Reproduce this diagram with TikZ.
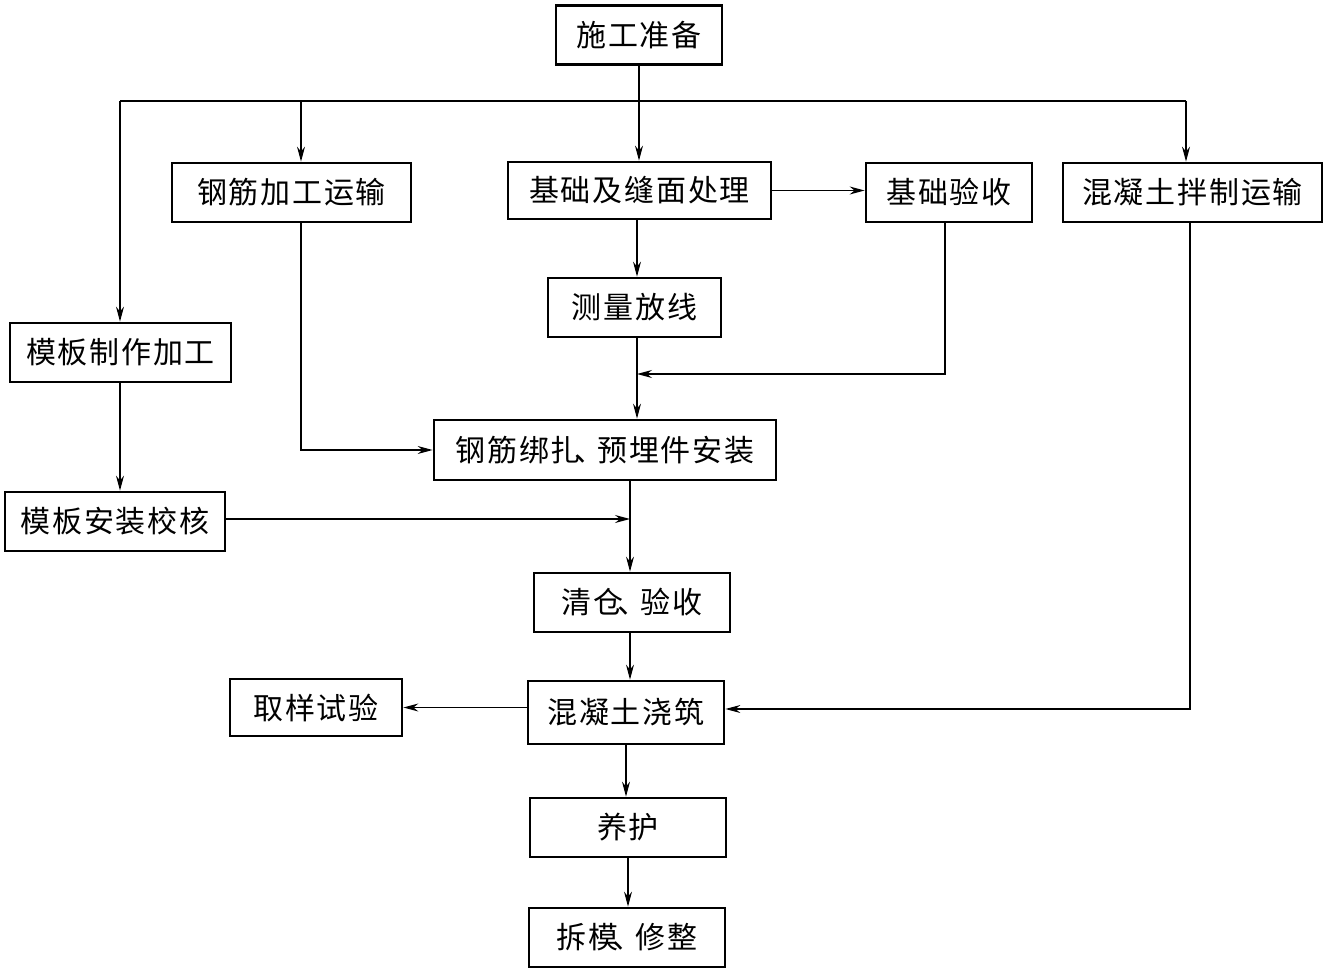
\documentclass[tikz,border=0pt]{standalone}
\usepackage{fontspec}
\newfontfamily\cjk[LetterSpace=6]{Noto Sans CJK SC}
\usetikzlibrary{arrows.meta}
\begin{document}
\begin{tikzpicture}[x=1pt,y=-1pt,
  box/.style={draw,line width=2.8pt,inner sep=0pt,font=\cjk\fontsize{30pt}{32pt}\selectfont},
  link/.style={line width=1.1pt},
  arr/.style={link,-{Stealth[length=15pt,width=8pt,inset=5pt]}}]
\path[use as bounding box] (0,0) rectangle (1327,973);
\node[box,minimum width=166pt,minimum height=59pt] (n1) at (639,35) {施工准备};
\node[box,minimum width=239pt,minimum height=59pt] (n2) at (291.5,192.5) {钢筋加工运输};
\node[box,minimum width=263pt,minimum height=57pt] (n3) at (639.5,190.5) {基础及缝面处理};
\node[box,minimum width=166pt,minimum height=59pt] (n4) at (949,192.5) {基础验收};
\node[box,minimum width=259pt,minimum height=59pt] (n5) at (1192.5,192.5) {混凝土拌制运输};
\node[box,minimum width=173pt,minimum height=59pt] (n6) at (634.5,307.5) {测量放线};
\node[box,minimum width=221pt,minimum height=59pt] (n7) at (120.5,352.5) {模板制作加工};
\node[box,minimum width=342pt,minimum height=60pt] (n8) at (605,450) {钢筋绑扎\hspace{-0.2em}、\hspace{-0.25em}预埋件安装};
\node[box,minimum width=220pt,minimum height=59pt] (n9) at (115,521.5) {模板安装校核};
\node[box,minimum width=196pt,minimum height=59pt] (n10) at (632,602.5) {清仓\hspace{-0.2em}、\hspace{-0.25em}验收};
\node[box,minimum width=172pt,minimum height=57pt] (n11) at (316,707.5) {取样试验};
\node[box,minimum width=196pt,minimum height=63pt] (n12) at (626,712.5) {混凝土浇筑};
\node[box,minimum width=196pt,minimum height=59pt] (n13) at (628,827.5) {养护};
\node[box,minimum width=196pt,minimum height=59pt] (n14) at (627,937.5) {拆模\hspace{-0.2em}、\hspace{-0.25em}修整};
% helper coordinates
\coordinate (hl) at (120,101);
\coordinate (hr) at (1186,101);
\coordinate (hs) at (301,101);
\coordinate (hm) at (639,101);
\coordinate (cx) at (637,374);
\coordinate (c4) at (945,374);
\coordinate (c2) at (301,450);
\coordinate (c9) at (630,519);
\coordinate (c5) at (1190,709);
% connectors
\draw[link] (n1.south) -- (hm);
\draw[link] (hl) -- (hr);
\draw[arr] (hl) -- (hl |- n7.north);
\draw[arr] (hs) -- (hs |- n2.north);
\draw[arr] (hm) -- (hm |- n3.north);
\draw[arr] (hr) -- (hr |- n5.north);
\draw[arr] (n3.east) -- (n3.east -| n4.west);
\draw[arr] (n3.south -| cx) -- (n6.north -| cx);
\draw[arr] (n6.south -| cx) -- (n8.north -| cx);
\draw[arr] (n4.south -| c4) -- (c4) -- (cx);
\draw[arr] (n2.south -| c2) -- (c2) -- (n8.west);
\draw[arr] (n7.south -| hl) -- (n9.north -| hl);
\draw[arr] (n9.east |- c9) -- (c9);
\draw[arr] (n8.south -| c9) -- (n10.north -| c9);
\draw[arr] (n10.south -| c9) -- (n12.north -| c9);
\draw[arr] (n5.south -| c5) -- (c5) -- (n12.east |- c5);
\draw[arr] (n12.west |- n11.east) -- (n11.east);
\draw[arr] (n12.south) -- (n12.south |- n13.north);
\draw[arr] (n13.south) -- (n13.south |- n14.north);
\end{tikzpicture}
\end{document}
